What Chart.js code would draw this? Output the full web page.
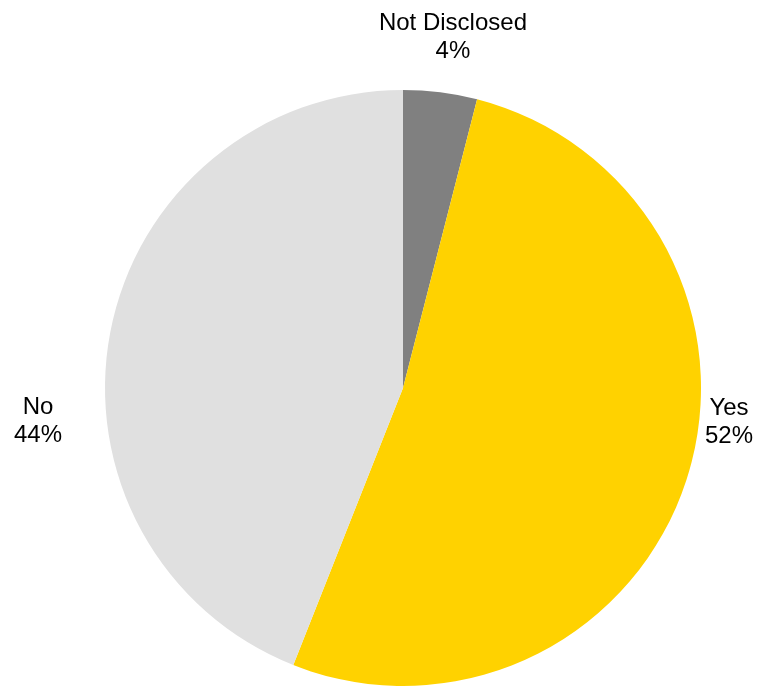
<!DOCTYPE html>
<html lang="en">

<head>
    <meta charset="UTF-8">
    <title>Disclosure</title>
    <script src="https://cdn.jsdelivr.net/npm/chart.js"></script>
    <style>
        html, body { margin: 0; padding: 0; background: #fff; }
        #wrap { position: relative; width: 782px; height: 688px; }
    </style>
</head>

<body>
    <div id="wrap">
        <canvas id="pie"></canvas>
    </div>

<script>
    // fatias no sentido horario a partir do topo
    const categorias = ['Not Disclosed', 'Yes', 'No'];
    const valores = [4, 52, 44];
    const cores = ['#808080', '#FFD200', '#E0E0E0'];

    // onde fica cada rotulo: angulo (graus, a partir do topo) e distancia em raios
    const rotuloAngulo = [8.1, 96, 264.7];
    const rotuloDist = [1.19, 1.10, 1.23];

    const rotulos = {
        id: 'rotulos',
        afterDraw(chart) {
            const ctx = chart.ctx;
            const arcos = chart.getDatasetMeta(0).data;
            ctx.save();
            ctx.fillStyle = '#000';
            ctx.font = '24px "Liberation Sans", Arial, sans-serif';
            ctx.textAlign = 'center';
            ctx.textBaseline = 'middle';
            arcos.forEach(function (arco, i) {
                const a = rotuloAngulo[i] * Math.PI / 180;
                const d = arco.outerRadius * rotuloDist[i];
                const x = arco.x + d * Math.sin(a);
                const y = arco.y - d * Math.cos(a);
                ctx.fillText(categorias[i], x, y - 14);
                ctx.fillText(valores[i] + '%', x, y + 14);
            });
            ctx.restore();
        }
    };

    new Chart(document.getElementById('pie'), {
        type: 'pie',
        data: {
            labels: categorias,
            datasets: [{
                data: valores,
                backgroundColor: cores,
                borderWidth: 0
            }]
        },
        options: {
            responsive: true,
            maintainAspectRatio: false,
            animation: false,
            layout: { padding: { top: 90, bottom: 2, left: 90, right: 66 } },
            plugins: {
                legend: { display: false },
                tooltip: { enabled: false }
            }
        },
        plugins: [rotulos]
    });
</script>
</body>

</html>
